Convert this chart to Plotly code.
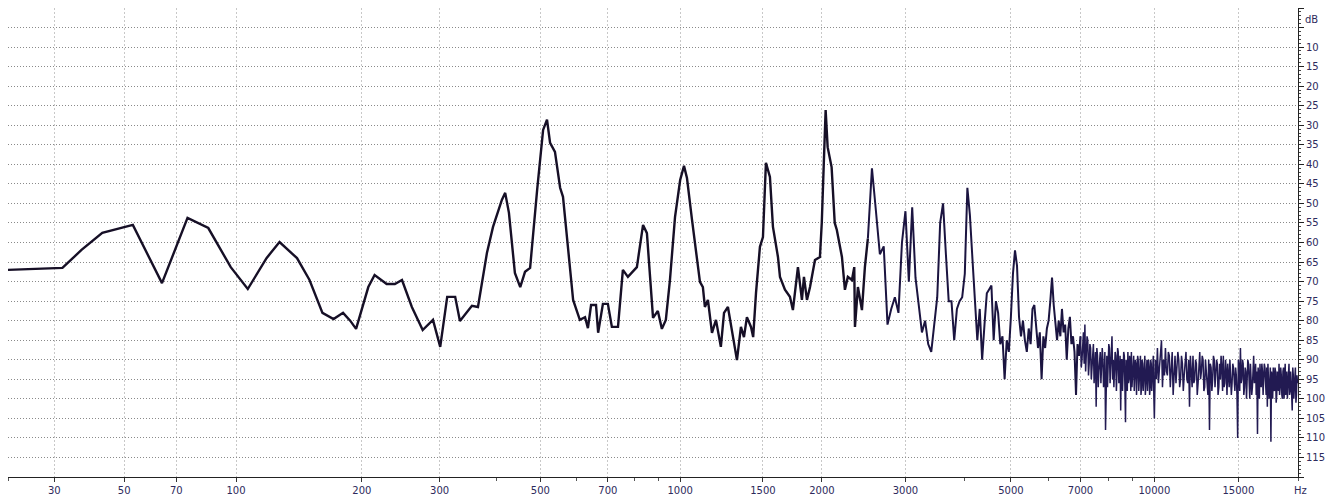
import numpy as np
import plotly.graph_objects as go

# ---- spectrum readings, 20 Hz .. 2.46 kHz (frequency in Hz, level in dB) ----
low_freq_hz = [20, 32, 37, 43, 53, 64, 75, 85, 97, 107, 119, 128, 141, 151, 162, 172, 181, 188,
               194, 203, 207, 214, 228, 238, 247, 260, 275, 290, 301, 312, 325, 333, 354, 365,
               382, 394, 412, 419, 427, 440, 452, 463, 475, 492, 507, 517, 525, 538, 552, 560,
               589, 609, 625, 634, 644, 660, 667, 683, 700, 714, 736, 754, 773, 808, 833, 849,
               875, 896, 914, 932, 951, 975, 1000, 1019, 1034, 1060, 1102, 1118, 1129, 1146,
               1169, 1192, 1221, 1240, 1264, 1296, 1321, 1347, 1367, 1387, 1415, 1430, 1450,
               1478, 1500, 1522, 1552, 1575, 1614, 1630, 1670, 1711, 1736, 1779, 1814, 1832,
               1859, 1887, 1933, 1980, 1998, 2018, 2036, 2056, 2096, 2128, 2150, 2204, 2236,
               2268, 2314, 2340, 2348, 2382, 2429, 2464]
low_level_db = [-67.0, -66.5, -61.9, -57.5, -55.5, -70.4, -53.7, -56.3, -66.3, -71.9, -64.0, -59.9,
                -64.0, -69.6, -78.0, -79.6, -78.0, -80.0, -82.1, -74.7, -71.4, -68.3, -70.6,
                -70.6, -69.6, -76.5, -82.4, -79.8, -86.7, -73.9, -73.9, -80.1, -76.2, -76.5,
                -62.7, -56.0, -49.1, -47.3, -52.4, -67.8, -71.4, -67.5, -66.5, -46.6, -31.2,
                -28.6, -34.5, -36.8, -46.0, -48.3, -74.7, -79.8, -79.1, -81.9, -76.0, -76.0,
                -83.1, -75.7, -75.7, -81.6, -81.6, -67.0, -68.8, -66.3, -55.5, -57.6, -79.3,
                -77.5, -82.1, -79.8, -69.6, -53.5, -44.0, -40.4, -43.5, -54.2, -70.1, -71.4,
                -76.5, -74.7, -83.1, -79.8, -86.7, -78.0, -76.5, -84.2, -90.1, -81.6, -84.2,
                -79.1, -81.6, -84.2, -72.9, -61.1, -58.6, -39.6, -43.2, -56.0, -63.7, -68.8,
                -72.1, -73.9, -77.3, -66.3, -74.7, -68.8, -74.7, -71.4, -64.5, -63.7, -55.0,
                -39.6, -26.1, -35.6, -40.7, -55.0, -56.8, -63.7, -72.1, -68.8, -69.6, -66.3,
                -81.6, -71.4, -77.3, -66.3]

# ---- dense FFT bins (regular frequency grids: start Hz, step Hz, levels dB) ----
band_a_start_hz, band_a_step_hz = 2500, 50
band_a_db = [-59, -41, -52, -63, -61, -81, -77, -74, -78, -60, -52, -70, -51, -69, -76, -83, -80,
             -86, -88, -81, -74, -55, -50, -63, -75, -75, -85, -77, -75, -74, -68, -46, -53, -64,
             -75, -85, -77, -90, -81, -73, -72, -71, -85, -75, -78, -86, -84, -95, -85, -88, -79]

band_b_start_hz, band_b_step_hz = 5050, 50
band_b_db = [-68, -62, -66, -79, -84, -80, -85, -88, -82, -86, -77, -76, -82, -87, -83, -95, -84,
             -87, -82, -80, -75, -69, -76, -81, -85, -80, -84, -77, -83, -81, -90, -82, -79, -86,
             -84, -88, -99, -86, -89]

band_c_start_hz, band_c_step_hz = 7000, 25
band_c_db = [-84, -92, -90, -85, -83, -91, -81, -93, -88, -84, -85, -94, -91, -86, -87, -95, -92,
             -87, -86, -96, -90, -88, -102, -87, -89, -97, -93, -88, -88, -96, -92, -87, -90, -97,
             -95, -88, -108, -90, -89, -97, -91, -86, -87, -96, -92, -88, -84, -95, -90, -97, -94,
             -88, -89, -98, -93, -87, -88, -96, -95, -89, -103, -90, -90, -98, -93, -88, -89, -97,
             -106, -90, -92, -98, -88, -96, -95, -89, -91, -98, -88, -97, -93, -89, -89, -98, -95,
             -90, -91, -99, -96, -89, -90, -98, -94, -90, -89, -99, -97, -90, -91, -98, -93, -89,
             -89, -99, -96, -91, -90, -98, -94, -90, -92, -99, -97, -90, -91, -98, -95, -91, -89,
             -99, -105]

band_d_start_hz, band_d_step_hz = 10050, 50
band_d_db = [-90, -95, -87, -96, -92, -88, -85, -97, -90, -94, -87, -93, -94, -88, -89, -97, -93,
             -88, -99, -91, -89, -96, -92, -88, -90, -97, -95, -89, -91, -98, -94, -89, -88, -95,
             -96, -90, -102, -89, -92, -97, -89, -96, -95, -90, -91, -99, -96, -89, -88, -95, -93,
             -89, -90, -98, -97, -90, -93, -96, -99, -90, -108, -91, -92, -98, -95, -89, -90, -97,
             -94, -90, -91, -99, -97, -91, -95, -89, -92, -98, -89, -97, -96, -90, -93, -99, -91,
             -96, -97, -90, -94, -99, -96, -91, -92, -97, -98, -92, -94, -99, -110, -90, -92, -98,
             -87, -96, -95, -90, -91, -99, -97, -92, -93, -100, -96, -90, -91, -97, -100, -91, -94,
             -99, -97, -90, -89, -96, -95, -91, -99, -93, -109, -92, -94, -100, -91, -96, -97, -91,
             -93, -99, -96, -91, -92, -98, -99, -92, -102, -91, -94, -100, -97, -92, -111, -93,
             -95, -100, -92, -97, -98, -92, -93, -101, -99, -93, -95, -98, -91, -99, -97, -92, -94,
             -99, -100, -93, -92, -100, -96, -91, -99, -94, -93, -100, -97, -92, -91, -99, -98, -93,
             -95, -99, -103, -92, -94, -100, -97, -93, -92, -101, -99, -94, -96]

# ---- axis ticks ----
x_tick_hz = [30, 50, 70, 100, 200, 300, 500, 700, 1000, 1500, 2000, 3000, 5000, 7000, 10000, 15000]
x_minor_hz = [20, 400, 600, 800, 900, 4000, 6000, 8000, 9000, 20000]
y_tick_db = [0] + list(range(-5, -120, -5)) + [-120]
y_tick_text = ["", ""] + [str(-v) for v in range(-10, -120, -5)] + [""]

# The analyser's frequency axis is logarithmic in (f + 20 Hz)
F_OFFSET = 20.0


def warp(hz):
    return np.asarray(hz, dtype=float) + F_OFFSET


def grid(start, step, vals):
    return [start + i * step for i in range(len(vals))]


mid_freq = grid(band_a_start_hz, band_a_step_hz, band_a_db) + \
    grid(band_b_start_hz, band_b_step_hz, band_b_db)
mid_level = band_a_db + band_b_db
hi_freq = grid(band_c_start_hz, band_c_step_hz, band_c_db) + \
    grid(band_d_start_hz, band_d_step_hz, band_d_db)
hi_level = band_c_db + band_d_db

lo_freq = low_freq_hz + [mid_freq[0]]
lo_level = low_level_db + [mid_level[0]]
mid_freq = mid_freq + [hi_freq[0]]
mid_level = mid_level + [hi_level[0]]

label_font = dict(family="DejaVu Sans", size=10, color="#2d2a5c")

fig = go.Figure()
fig.add_trace(go.Scatter(x=warp(lo_freq), y=lo_level, mode="lines",
                         line=dict(color="#160f26", width=2.4), hoverinfo="skip"))
fig.add_trace(go.Scatter(x=warp(mid_freq), y=mid_level, mode="lines",
                         line=dict(color="#1b1440", width=2.0), hoverinfo="skip"))
fig.add_trace(go.Scatter(x=warp(hi_freq), y=hi_level, mode="lines",
                         line=dict(color="#221a52", width=1.5), hoverinfo="skip"))

# the page body adds an 8 px offset on the left and top
fig.update_layout(
    width=1331, height=489,
    margin=dict(l=0, r=41, t=0, b=20, autoexpand=False),
    paper_bgcolor="white", plot_bgcolor="white",
    showlegend=False,
    xaxis=dict(
        type="log",
        range=[np.log10(20 + F_OFFSET), np.log10(20000 + F_OFFSET)],
        tickvals=list(warp(x_tick_hz)),
        ticktext=[str(v) for v in x_tick_hz],
        ticks="outside", ticklen=4, tickcolor="#333",
        showline=True, linecolor="#222", linewidth=1,
        showgrid=True, gridcolor="#c8c8c8", griddash="2px,2px", gridwidth=1,
        zeroline=False, tickfont=label_font,
        minor=dict(tickvals=list(warp(x_minor_hz)), ticks="outside", ticklen=3,
                   tickcolor="#555", showgrid=False),
    ),
    yaxis=dict(
        side="right",
        range=[-120, 0],
        tickvals=y_tick_db, ticktext=y_tick_text,
        ticks="outside", ticklen=5, tickcolor="#222",
        showline=True, linecolor="#222", linewidth=1,
        showgrid=True, gridcolor="#8a8a8a", griddash="1px,2px", gridwidth=1,
        zeroline=False, tickfont=label_font,
        minor=dict(dtick=1, ticks="outside", ticklen=2, tickcolor="#444", showgrid=False),
    ),
    annotations=[
        dict(text="dB", xref="paper", x=1, xanchor="left", xshift=5,
             yref="y", y=-3, yanchor="middle", showarrow=False, font=label_font),
        dict(text="Hz", xref="paper", x=1, xanchor="center", xshift=2,
             yref="paper", y=0, yanchor="top", yshift=-6, showarrow=False, font=label_font),
    ],
)

fig.write_html("out.html")
